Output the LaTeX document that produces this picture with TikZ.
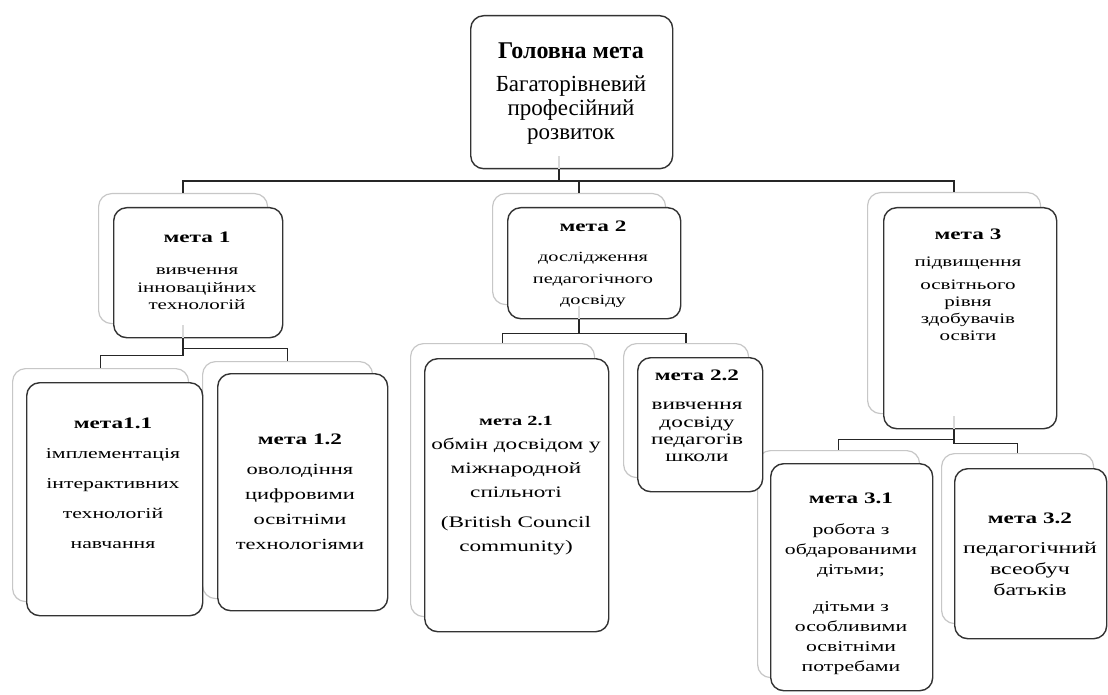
\documentclass[tikz,border=0pt]{standalone}
\usepackage{fontspec}
\setmainfont{Liberation Serif}
\newfontfamily\wfont[FakeStretch=1.45]{Liberation Serif}
\usetikzlibrary{calc}
\begin{document}
\begin{tikzpicture}[x=1pt,y=-1pt,
  back/.style={draw=black!22, line width=1.2pt, rounded corners=13pt, fill=white, inner sep=0pt, anchor=north west},
  front/.style={draw=black!80, line width=1.4pt, rounded corners=13pt, fill=white, inner sep=0pt, anchor=north west},
  conn/.style={draw=black!85, line width=1.5pt},
  faint/.style={draw=black!15, line width=1.4pt},
  txt/.style={align=center, inner sep=0pt, text=black},
]
\useasboundingbox (0,0) rectangle (1108,695);

% background boxes
\node[back, minimum width=169pt, minimum height=130pt] (m1b) at (98,193) {};
\node[back, minimum width=173pt, minimum height=111pt] (m2b) at (492,193) {};
\node[back, minimum width=173pt, minimum height=221pt] (m3b) at (867,192) {};
\node[back, minimum width=176pt, minimum height=233pt] (m11b) at (12,368) {};
\node[back, minimum width=170pt, minimum height=237pt] (m12b) at (202,361) {};
\node[back, minimum width=184pt, minimum height=273pt] (m21b) at (410,343) {};
\node[back, minimum width=125pt, minimum height=134pt] (m22b) at (623,343) {};
\node[back, minimum width=162pt, minimum height=227pt] (m31b) at (757,450) {};
\node[back, minimum width=152pt, minimum height=170pt] (m32b) at (941,453) {};

% front boxes
\node[front, minimum width=202pt, minimum height=153pt] (main) at (470,15) {};
\node[front, minimum width=169pt, minimum height=130pt] (m1) at (113,207) {};
\node[front, minimum width=173pt, minimum height=111pt] (m2) at (507,207) {};
\node[front, minimum width=173pt, minimum height=221pt] (m3) at (883,207) {};
\node[front, minimum width=176pt, minimum height=233pt] (m11) at (26,382) {};
\node[front, minimum width=170pt, minimum height=237pt] (m12) at (217,373) {};
\node[front, minimum width=184pt, minimum height=273pt] (m21) at (424,358) {};
\node[front, minimum width=125pt, minimum height=134pt] (m22) at (637,357) {};
\node[front, minimum width=162pt, minimum height=227pt] (m31) at (770,463) {};
\node[front, minimum width=152pt, minimum height=170pt] (m32) at (954,468) {};

% connectors
\coordinate (j0) at (559,181);
\draw[faint] (main.south -| j0) -- ++(0,-13);
\draw[conn] (main.south -| j0) -- (j0);
\draw[conn] (j0) -| (m1b.north);
\draw[conn] (j0) -| (m2b.north);
\draw[conn] (j0) -| (m3b.north);

\draw[faint] (m1b.south |- m1.south) -- ++(0,-13);
\draw[conn] (m1b.south |- m1.south) -- ++(0,17) -| (m11b.north);
\draw[conn] (m1b.south |- m1.south) -- ++(0,10) -| (m12b.north);

\draw[faint] (m2b.south |- m2.south) -- ++(0,-13);
\draw[conn] (m2b.south |- m2.south) -- ++(0,14) -| (m21b.north);
\draw[conn] (m2b.south |- m2.south) -- ++(0,14) -| (m22b.north);

\draw[faint] (m3b.south |- m3.south) -- ++(0,-13);
\draw[conn] (m3b.south |- m3.south) -- ++(0,10) -| (m31b.north);
\draw[conn] (m3b.south |- m3.south) -- ++(0,14) -| (m32b.north);

% texts
\node[txt, font=\fontsize{23}{24}\selectfont] (maint) at (571,94)
  {{\bfseries\fontsize{24}{24}\selectfont Головна мета}\\[9pt]Багаторівневий\\професійний\\розвиток};
\node[txt, font=\wfont\fontsize{14.5}{17.5}\selectfont] (m1t) at (197,271)
  {{\bfseries\fontsize{16}{17.5}\selectfont мета 1}\\[15pt]вивчення\\інноваційних\\технологій};
\node[txt, font=\wfont\fontsize{14}{21.5}\selectfont] (m2t) at (593,264)
  {{\bfseries\fontsize{16}{21.5}\selectfont мета 2}\\[9pt]дослідження\\педагогічного\\досвіду};
\node[txt, font=\wfont\fontsize{14.5}{17}\selectfont] (m3t) at (968,285)
  {{\bfseries\fontsize{16}{17}\selectfont мета 3}\\[10pt]підвищення\\[6pt]освітнього\\рівня\\здобувачів\\освіти};
\node[txt, font=\wfont\fontsize{15}{30}\selectfont] (m11t) at (113,483)
  {{\bfseries\fontsize{16}{30}\selectfont мета1.1}\\імплементація\\інтерактивних\\технологій\\навчання};
\node[txt, font=\wfont\fontsize{15.5}{25}\selectfont] (m12t) at (300,492)
  {{\bfseries\fontsize{16}{25}\selectfont мета 1.2}\\[5pt]оволодіння\\цифровими\\освітніми\\технологіями};
\node[txt, font=\wfont\fontsize{16}{24}\selectfont] (m21t) at (516,486)
  {{\bfseries\fontsize{14}{24}\selectfont мета 2.1}\\обмін досвідом у\\міжнародной\\спільноті\\[6pt](British Council\\community)};
\node[txt, font=\wfont\fontsize{16}{17.3}\selectfont] (m22t) at (697,416)
  {{\bfseries\fontsize{16}{17.3}\selectfont мета 2.2}\\[12pt]вивчення\\досвіду\\педагогів\\школи};
\node[txt, font=\wfont\fontsize{15}{20}\selectfont] (m31t) at (851,584)
  {{\bfseries\fontsize{16}{20}\selectfont мета 3.1}\\[11pt]робота з\\обдарованими\\дітьми;\\[17pt]дітьми з\\особливими\\освітніми\\потребами};
\node[txt, font=\wfont\fontsize{16.5}{21}\selectfont] (m32t) at (1030,554)
  {{\bfseries\fontsize{16}{21}\selectfont мета 3.2}\\[9pt]педагогічний\\всеобуч\\батьків};
\end{tikzpicture}
\end{document}
